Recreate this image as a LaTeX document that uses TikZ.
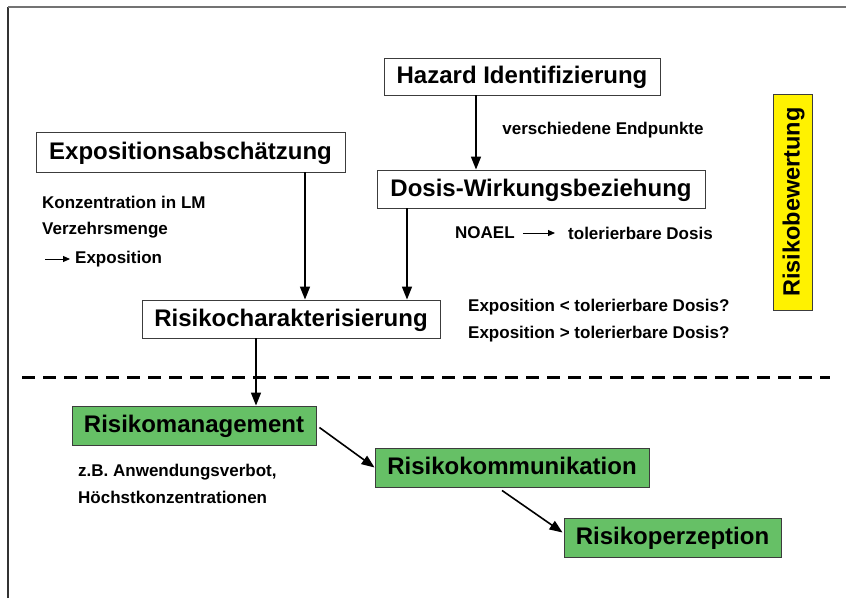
\documentclass[tikz,border=0pt]{standalone}
\usepackage{fontspec}
\setmainfont{Liberation Sans}
\usetikzlibrary{arrows.meta,calc}
\definecolor{boxgreen}{RGB}{102,192,102}
\definecolor{boxyellow}{RGB}{255,242,0}
\definecolor{edgegray}{RGB}{60,60,60}
\begin{document}
\begin{tikzpicture}[x=1pt,y=-1pt,
  boxbase/.style={draw=edgegray, line width=0.9pt, inner sep=0pt,
    text height=17.5pt, text depth=3.5pt,
    font=\fontsize{24}{28}\selectfont\bfseries},
  whitebox/.style={boxbase, fill=white},
  greenbox/.style={boxbase, fill=boxgreen},
  yellowbox/.style={boxbase, fill=boxyellow, font=\fontsize{23.5}{28}\selectfont\bfseries},
  small/.style={inner sep=0pt, font=\fontsize{17}{20}\selectfont\bfseries},
  arr/.style={line width=1.6pt, -{Triangle[length=13pt,width=10pt]}},
  smallarr/.style={line width=1pt, -{Triangle[length=7pt,width=6pt]}},
  dashline/.style={line width=3pt, dash pattern=on 13pt off 8pt}
]
\useasboundingbox (0,0) rectangle (846,598);
\fill[white] (0,0) rectangle (846,598);
% frame
\coordinate (fbl) at (8,598);
\coordinate (ftl) at (8,7);
\coordinate (ftr) at (846,7);
\draw[line width=1.5pt, black!80] (fbl) -- (ftl);
\draw[line width=2pt, black!55] (ftl) -- (ftr);

% boxes
\node[whitebox, minimum width=276, minimum height=37] (hazard) at (522,76.5) {Hazard Identifizierung};
\node[whitebox, minimum width=328, minimum height=38] (dosis) at (541,189) {Dosis-Wirkungsbeziehung};
\node[whitebox, minimum width=309, minimum height=40] (expo) at (190.5,152) {Expositionsabschätzung};
\node[whitebox, minimum width=298, minimum height=38] (rchar) at (291,319) {Risikocharakterisierung};
\node[greenbox, minimum width=244, minimum height=39] (rman) at (194,425.5) {Risikomanagement};
\node[greenbox, minimum width=274, minimum height=39] (rkomm) at (512,467.5) {Risikokommunikation};
\node[greenbox, minimum width=217, minimum height=39] (rperz) at (672.5,537.5) {Risikoperzeption};
\node[yellowbox, minimum width=216, minimum height=39, rotate=90] (rbew) at (792.5,202) {Risikobewertung};

% small texts
\node[small] (endp) at (603,130) {verschiedene Endpunkte};
\node[small, anchor=west] (konz) at (42,202) {Konzentration in LM};
\node[small, anchor=west] (verz) at (42,230) {Verzehrsmenge};
\coordinate (expoarr) at (45,259);
\node[small, anchor=west] (expo2) at (75,259) {Exposition};
\node[small, anchor=west] (noael) at (455,233) {NOAEL};
\node[small, anchor=west] (told) at (568,233) {tolerierbare Dosis};
\node[small, anchor=west] (q1) at (468,307) {Exposition < tolerierbare Dosis?};
\node[small, anchor=west] (q2) at (468,334) {Exposition > tolerierbare Dosis?};
\node[small, anchor=west] (zb) at (78,472) {z.B. Anwendungsverbot,};
\node[small, anchor=west] (hk) at (78,497) {Höchstkonzentrationen};

% arrow x-positions
\coordinate (x1) at (476,0);
\coordinate (x2) at (305,0);
\coordinate (x3) at (407,0);
\coordinate (x4) at (256,0);

\draw[arr] (hazard.south -| x1) -- (dosis.north -| x1);
\draw[arr] (expo.south -| x2) -- (rchar.north -| x2);
\draw[arr] (dosis.south -| x3) -- (rchar.north -| x3);
\draw[arr] (rchar.south -| x4) -- (rman.north -| x4);
\draw[arr] ($(rman.east)+(3,2)$) -- ($(rkomm.west)+(0,0)$);
\draw[arr] ($(rkomm.south)+(-10,3)$) -- ($(rperz.west)+(-1,-5)$);

\draw[smallarr, shorten >=5pt] (expoarr) -- (expo2.west);
\draw[smallarr, shorten <=8pt, shorten >=13pt] (noael.east) -- (told.west);

% dashed separator
\coordinate (dl) at (22,377);
\coordinate (dr) at (830,377);
\draw[dashline] (dl) -- (dr);
\end{tikzpicture}
\end{document}
